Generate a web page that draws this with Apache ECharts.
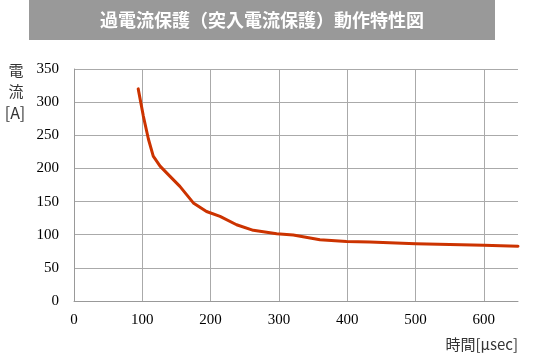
<!DOCTYPE html>
<html><head><meta charset="utf-8">
<script src="https://cdn.jsdelivr.net/npm/echarts@6/dist/echarts.min.js"></script>
<style>html,body{margin:0;padding:0;background:#fff}#c{width:549px;height:361px}</style>
</head><body><div id="c"></div>
<script>
const titleText = "過電流保護（突入電流保護）動作特性図";
const yAxisNameLines = ["電", "流", "[A]"];
const xAxisName = "時間[μsec]";
const timeUs = [94, 101.5, 109, 116, 126, 140.6, 155, 174.7, 194, 213.8, 238, 262.5, 296.7, 321, 360, 399, 433, 500, 600, 650];
const currentA = [320, 279, 244, 218.6, 203.5, 188, 173, 148, 135, 127.7, 115, 106.6, 101.5, 99.5, 92.4, 89.6, 89, 86.5, 84, 82.5];
const xTicks = [0, 100, 200, 300, 400, 500, 600];
const yTicks = [0, 50, 100, 150, 200, 250, 300, 350];

const serif = "Liberation Serif";
const cjk = "Noto Sans CJK JP";

const chart = echarts.init(document.getElementById('c'), null, {renderer: 'canvas'});
chart.setOption({
  animation: false,
  grid: {left: 74, right: 31, top: 69, bottom: 60, containLabel: false},
  graphic: [
    {type: 'rect', shape: {x: 29, y: 0, width: 466, height: 40}, style: {fill: '#999999'}, silent: true},
    {type: 'text', x: 262, y: 20, style: {text: titleText, fill: '#ffffff', fontFamily: cjk, fontSize: 18, fontWeight: 'bold', align: 'center', verticalAlign: 'middle'}},
    {type: 'text', x: 16, y: 70, style: {text: yAxisNameLines[0], fill: '#333', fontFamily: cjk, fontSize: 15, align: 'center', verticalAlign: 'middle'}},
    {type: 'text', x: 16, y: 91, style: {text: yAxisNameLines[1], fill: '#333', fontFamily: cjk, fontSize: 15, align: 'center', verticalAlign: 'middle'}},
    {type: 'text', x: 15, y: 113, style: {text: yAxisNameLines[2], fill: '#333', fontFamily: cjk, fontSize: 16, align: 'center', verticalAlign: 'middle'}}
  ],
  xAxis: {
    type: 'value', min: 0, max: 650, interval: 100,
    name: xAxisName, nameLocation: 'end',
    nameTextStyle: {fontFamily: cjk, fontSize: 15, color: '#333', align: 'right', verticalAlign: 'top', padding: [36, 0, 0, 0]},
    nameGap: 0,
    axisLine: {show: true, lineStyle: {color: '#999', width: 1}},
    axisTick: {show: false},
    axisLabel: {color: '#000', fontFamily: serif, fontSize: 15, margin: 12, showMaxLabel: false,
      formatter: v => xTicks.includes(v) ? String(v) : ''},
    splitLine: {show: true, showMaxLine: false, lineStyle: {color: '#aaa', width: 1}}
  },
  yAxis: {
    type: 'value', min: 0, max: 350, interval: 50,
    axisLine: {show: true, lineStyle: {color: '#999', width: 1}},
    axisTick: {show: false},
    axisLabel: {color: '#000', fontFamily: serif, fontSize: 15, margin: 15,
      formatter: v => yTicks.includes(v) ? String(v) : ''},
    splitLine: {show: true, lineStyle: {color: '#aaa', width: 1}}
  },
  series: [{
    type: 'line', smooth: false, symbol: 'none',
    data: timeUs.map((t, i) => [t, currentA[i]]),
    lineStyle: {color: '#cc3300', width: 3, cap: 'round', join: 'round'}
  }]
});
</script></body></html>
